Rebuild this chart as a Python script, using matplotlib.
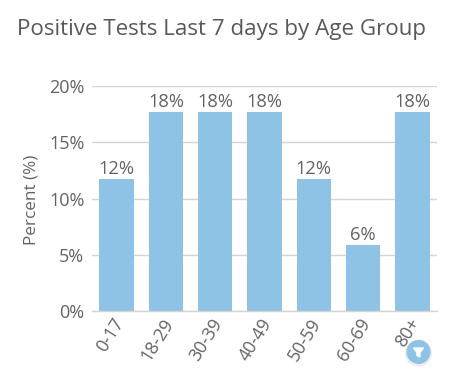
import matplotlib
matplotlib.use("Agg")
import matplotlib.pyplot as plt
from matplotlib.patches import Circle, Polygon
from matplotlib.transforms import ScaledTranslation

# --- Data ---
age_groups = ["0-17", "18-29", "30-39", "40-49", "50-59", "60-69", "80+"]
percent = [11.76, 17.65, 17.65, 17.65, 11.76, 5.88, 17.65]
y_ticks = [0, 5, 10, 15, 20]

W, H = 461, 386
TEXT = "#636363"
BAR = "#8fc3e6"
GRID = "#d4d4d4"

plt.rcParams["font.family"] = ["Open Sans", "DejaVu Sans"]

fig = plt.figure(figsize=(W / 100, H / 100), dpi=100, facecolor="white")

# plot area in pixels: x 92-437, y 86-311
ax = fig.add_axes([92 / W, 1 - 311 / H, 345 / W, 225 / H])

bars = ax.bar(range(len(age_groups)), percent, width=0.7, color=BAR, zorder=2)
for bar, val in zip(bars, percent):
    ax.text(bar.get_x() + bar.get_width() / 2, val + 0.1, f"{val:.0f}%",
            ha="center", va="bottom", fontsize=13.2, color=TEXT)

ax.set_xlim(-0.5, len(age_groups) - 0.5)
ax.set_ylim(0, 20)
ax.set_yticks(y_ticks)
ax.set_yticklabels([f"{t}%" for t in y_ticks], fontsize=13, color=TEXT)
ax.set_xticks(range(len(age_groups)))
ax.set_xticklabels(age_groups, rotation=58, ha="right", rotation_mode="anchor",
                   fontsize=12.8, color=TEXT)
ax.tick_params(axis="both", length=0)
ax.tick_params(axis="x", pad=3)
ax.tick_params(axis="y", pad=5.5)

# nudge the rotated labels left, they sit a little right of the bar centres
shift = ScaledTranslation(-4 / 100, 0, fig.dpi_scale_trans)
for lab in ax.get_xticklabels():
    lab.set_transform(lab.get_transform() + shift)

ax.grid(True, axis="y", color=GRID, linewidth=1, zorder=0)
ax.set_axisbelow(True)
for name in ["top", "right", "left"]:
    ax.spines[name].set_visible(False)
ax.spines["bottom"].set_color(GRID)
ax.spines["bottom"].set_linewidth(1)

fig.text(32 / W, 1 - 200 / H, "Percent (%)", rotation=90, ha="center", va="center",
         fontsize=12.3, color=TEXT)
fig.text(17 / W, 1 - 29 / H, "Positive Tests Last 7 days by Age Group", ha="left",
         va="center", fontsize=16.15, color="#585858")

# filter button, drawn in figure pixels
overlay = fig.add_axes([0, 0, 1, 1], facecolor="none")
overlay.set_xlim(0, W)
overlay.set_ylim(H, 0)
overlay.axis("off")
overlay.add_patch(Circle((418.5, 353), 13, color="#e6e6e6", alpha=0.6, zorder=1))
overlay.add_patch(Circle((418.5, 352), 11.3, color=BAR, zorder=2))
overlay.add_patch(Polygon([(413.5, 348), (423.5, 348), (420, 352.5), (420, 357),
                           (417, 355.5), (417, 352.5)], color="white", zorder=3))

fig.savefig("out.png", dpi=100)
plt.close(fig)
